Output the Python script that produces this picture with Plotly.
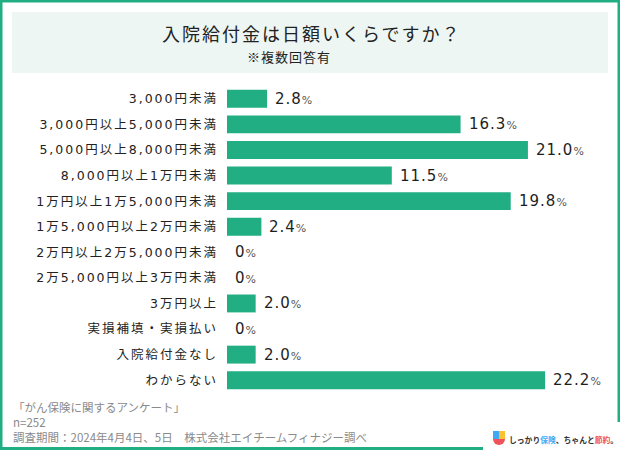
import plotly.graph_objects as go

categories = ["3,000円未満", "3,000円以上5,000円未満", "5,000円以上8,000円未満",
              "8,000円以上1万円未満", "1万円以上1万5,000円未満", "1万5,000円以上2万円未満",
              "2万円以上2万5,000円未満", "2万5,000円以上3万円未満", "3万円以上",
              "実損補填・実損払い", "入院給付金なし", "わからない"]
values = [2.8, 16.3, 21.0, 11.5, 19.8, 2.4, 0, 0, 2.0, 0, 2.0, 22.2]
value_labels = ["2.8", "16.3", "21.0", "11.5", "19.8", "2.4", "0", "0", "2.0", "0", "2.0", "22.2"]

title_text = "入院給付金は日額いくらですか？"
subtitle_text = "※複数回答有"
source_lines = ["「がん保険に関するアンケート」", "n=252",
                "調査期間：2024年4月4日、5日　株式会社エイチームフィナジー調べ"]
logo_parts = ["しっかり", "保険", "、ちゃんと", "節約", "。"]

W, H = 620, 450
ML, MR, MT, MB = 227, 35, 86, 57
PW, PH = W - ML - MR, H - MT - MB
GREEN = "#22AE83"
FONT = "DejaVu Sans, Noto Sans CJK JP"
CJK = "Noto Sans CJK JP"


def px_x(px):
    return (px - ML) / PW


def px_y(py):
    return (H - MB - py) / PH


idx = list(range(len(categories)))
fig = go.Figure(go.Bar(
    x=values, y=idx, orientation="h", width=0.7,
    marker=dict(color=GREEN, line=dict(width=0)),
    hoverinfo="skip",
))

ticktext = [f"<span style='letter-spacing:2px'>{c}</span>" for c in categories]

annotations = []
for i, (v, lab) in enumerate(zip(values, value_labels)):
    annotations.append(dict(
        x=v, y=i, xref="x", yref="y", xanchor="left", yanchor="middle",
        xshift=6, showarrow=False,
        text=f"<span style='letter-spacing:1px'>{lab}</span><span style='font-size:11px;color:#555'>%</span>",
        font=dict(family=FONT, size=15, color="#1e1e1e"),
    ))

annotations.append(dict(
    x=px_x(311), y=px_y(33), xref="paper", yref="paper", xanchor="center", yanchor="middle",
    showarrow=False, text=f"<span style='letter-spacing:2px'>{title_text}</span>",
    font=dict(family=CJK, size=18, color="#222"),
))
annotations.append(dict(
    x=px_x(289), y=px_y(57), xref="paper", yref="paper", xanchor="center", yanchor="middle",
    showarrow=False, text=f"<span style='letter-spacing:1px'>{subtitle_text}</span>",
    font=dict(family=CJK, size=13, color="#222"),
))
annotations.append(dict(
    x=px_x(11), y=px_y(422), xref="paper", yref="paper", xanchor="left", yanchor="middle",
    align="left", showarrow=False, text="<br>".join(source_lines),
    font=dict(family=CJK, size=11.5, color="#8a8a8a"),
))
annotations.append(dict(
    x=px_x(507), y=px_y(439), xref="paper", yref="paper", xanchor="left", yanchor="middle",
    showarrow=False,
    text=(f"<b>{logo_parts[0]}<span style='color:#3FA9F5'>{logo_parts[1]}</span>{logo_parts[2]}"
          f"<span style='color:#F0525A'>{logo_parts[3]}</span>{logo_parts[4]}</b>"),
    font=dict(family=CJK, size=7.8, color="#333"),
))


def rect(x0, y0, x1, y1, color, layer="above"):
    return dict(type="rect", xref="paper", yref="paper",
                x0=px_x(x0), x1=px_x(x1), y0=px_y(y1), y1=px_y(y0),
                fillcolor=color, line=dict(width=0), layer=layer)


shapes = [
    rect(12, 12, 608, 73, "#EDF6F3", layer="below"),
    rect(0, 0, 2.5, 450, GREEN),
    rect(0, 0, 620, 2.5, GREEN),
    rect(617.5, 0, 620, 422, GREEN),
    rect(0, 447, 483, 450, GREEN),
    dict(type="circle", xref="paper", yref="paper",
         x0=px_x(493), x1=px_x(505), y0=px_y(445), y1=px_y(433),
         fillcolor="#F0525A", line=dict(width=0)),
    rect(493, 431, 499, 439, "#3FA9F5"),
    rect(499, 431, 505, 439, "#F9C22E"),
]

fig.update_layout(
    width=W, height=H,
    margin=dict(l=ML, r=MR, t=MT, b=MB),
    paper_bgcolor="white", plot_bgcolor="white",
    showlegend=False,
    bargap=0.3,
    xaxis=dict(range=[0, PW / 14.33], showgrid=False, zeroline=False,
               showticklabels=False, ticks="", showline=False, fixedrange=True),
    yaxis=dict(range=[len(categories) - 0.5, -0.5], tickvals=idx, ticktext=ticktext,
               showgrid=False, zeroline=False, showline=False, ticks="",
               ticklabelstandoff=8,
               tickfont=dict(family=FONT, size=12.5, color="#222"), fixedrange=True),
    annotations=annotations,
    shapes=shapes,
)

fig.write_html("out.html", config={"displayModeBar": False})
